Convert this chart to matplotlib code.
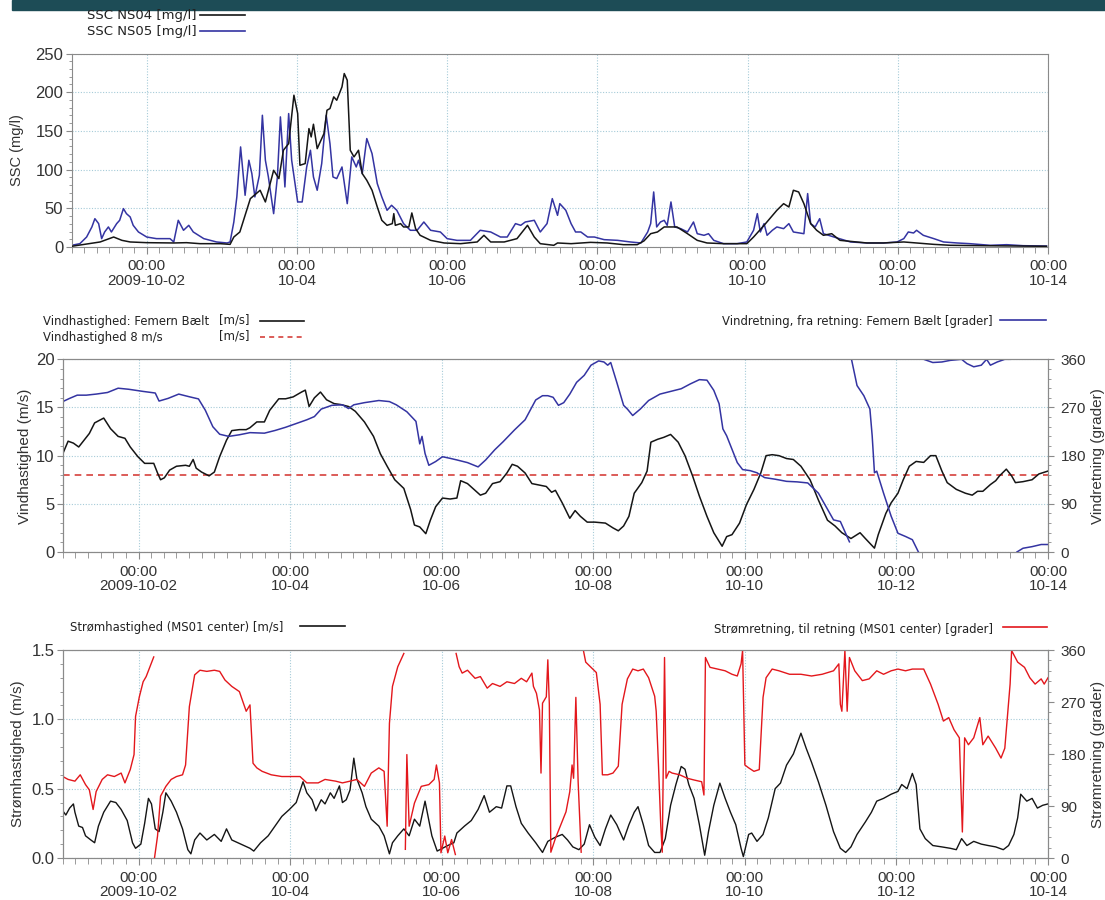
import numpy as np
import pandas as pd
import matplotlib
matplotlib.use('Agg')
import matplotlib.pyplot as plt
from matplotlib.lines import Line2D
from matplotlib.patches import Rectangle
from matplotlib.ticker import MultipleLocator
import matplotlib.dates as mdates

nan = np.nan
START = pd.Timestamp('2009-10-01')

# x-axis ticks
tick_days = ['2009-10-02', '2009-10-04', '2009-10-06', '2009-10-08', '2009-10-10', '2009-10-12', '2009-10-14']
tick_labels = ['00:00\n2009-10-02', '00:00\n10-04', '00:00\n10-06', '00:00\n10-08',
               '00:00\n10-10', '00:00\n10-12', '00:00\n10-14']

# ---- SSC (days since 2009-10-01 00:00, mg/l)
ns04_t = [0.00,0.38,0.56,0.67,0.78,1.00,1.36,1.53,1.71,1.98,2.11,2.16,2.24,2.38,2.51,2.58,2.69,2.76,2.82,2.89,
          2.96,3.01,3.04,3.11,3.16,3.19,3.22,3.27,3.36,3.40,3.44,3.49,3.53,3.60,3.63,3.67,3.71,3.76,3.82,3.87,
          3.93,4.00,4.07,4.13,4.20,4.27,4.29,4.31,4.38,4.42,4.49,4.53,4.58,4.64,4.78,4.96,5.18,5.40,5.49,5.58,
          5.76,5.93,6.07,6.16,6.24,6.42,
          6.47,6.65,6.91,7.13,7.35,7.53,7.62,7.71,7.80,7.89,8.06,8.20,8.33,8.46,8.68,8.99,9.08,9.22,9.39,9.48,
          9.55,9.61,9.68,9.75,9.84,9.92,10.01,10.12,10.23,10.59,10.81,11.08,11.25,11.48,11.70,12.14,12.58,12.98]
ns04_v = [0.9,6.5,12.9,8.6,6.5,5.6,5.2,5.6,4.3,4.3,3.4,12.9,19.4,62.5,73.3,58.2,99.1,88.4,125.0,133.6,
          196.1,172.4,105.6,107.8,153.0,142.2,158.6,127.1,146.5,176.7,178.9,194.0,189.6,206.9,224.1,215.5,125.0,116.4,125.0,94.8,
          86.2,73.3,51.7,34.5,28.0,30.2,43.1,28.0,30.2,25.9,25.9,44.0,23.7,15.1,8.6,5.2,4.3,6.5,15.1,6.5,
          6.5,10.8,28.0,12.9,4.3,2.2,
          5.2,4.3,6.0,5.2,3.0,3.0,7.8,17.2,19.4,25.9,25.9,17.2,8.6,5.2,4.3,4.3,12.9,28.0,47.4,56.0,
          51.7,73.3,71.1,56.0,30.2,21.6,15.1,17.2,8.6,5.2,5.2,6.5,5.2,3.4,2.2,1.7,1.3,0.9]

ns05_t = [0.00,0.11,0.20,0.27,0.31,0.36,0.40,0.44,0.49,0.53,0.60,0.64,0.69,0.73,0.78,0.82,0.89,1.00,1.13,1.31,
          1.36,1.42,1.49,1.56,1.62,1.76,1.93,2.07,2.11,2.16,2.20,2.25,2.31,2.36,2.40,2.44,2.50,2.54,2.58,2.62,
          2.69,2.74,2.78,2.81,2.84,2.89,2.93,3.01,3.07,3.13,3.18,3.22,3.27,3.33,3.39,3.44,3.48,3.53,3.60,3.67,
          3.73,3.79,3.82,3.87,3.93,4.00,4.07,4.13,4.20,4.26,4.33,4.42,4.51,4.60,4.69,4.78,4.91,5.00,5.13,5.31,
          5.44,5.58,5.71,5.80,5.91,5.98,6.04,6.16,6.24,6.33,6.40,
          6.47,6.50,6.58,6.65,6.71,6.78,6.87,6.96,7.09,7.27,7.44,7.58,7.67,7.71,7.75,7.79,7.84,7.89,7.93,7.98,
          8.03,8.11,8.20,8.28,8.33,8.42,8.48,8.55,8.68,8.86,8.99,9.08,9.13,9.17,9.22,9.26,9.33,9.39,9.48,9.55,
          9.61,9.75,9.80,9.84,9.90,9.96,10.01,10.15,10.37,10.59,10.81,10.99,11.08,11.14,11.21,11.25,11.34,11.48,11.61,11.79,
          11.96,12.23,12.45,12.67,12.98]
ns05_v = [2.2,4.3,12.9,25.9,36.6,30.2,10.8,19.4,25.9,19.4,30.2,34.5,49.6,43.1,38.8,28.0,19.4,12.9,10.8,10.8,
          6.5,34.5,21.6,28.0,19.4,10.8,6.5,5.2,6.5,32.3,64.7,129.3,66.8,112.1,94.8,64.7,92.7,170.2,112.1,90.5,
          43.1,90.5,168.1,125.0,77.6,172.4,112.1,58.2,58.2,103.4,125.0,90.5,73.3,107.8,170.2,133.6,90.5,88.4,103.4,56.0,
          116.4,103.4,112.1,94.8,140.1,120.7,81.9,64.7,47.4,53.9,47.4,30.2,21.6,21.6,32.3,21.6,19.4,10.8,8.6,8.6,
          21.6,19.4,12.9,12.9,30.2,28.0,32.3,34.5,19.4,30.2,62.5,
          40.9,56.0,47.4,30.2,19.4,19.4,12.9,12.9,9.5,8.6,6.5,5.2,19.4,30.2,71.1,25.9,32.3,34.5,28.0,58.2,
          25.9,23.7,19.4,32.3,17.2,15.1,17.2,8.6,4.3,4.3,6.5,21.6,43.1,19.4,30.2,15.1,21.6,25.9,23.7,30.2,
          19.4,17.2,69.0,30.2,25.9,36.6,17.2,12.9,6.5,5.2,5.2,6.5,10.8,19.4,18.1,21.6,15.1,10.8,6.5,5.2,
          4.3,2.2,3.0,1.7,1.3]

# ---- wind speed (m/s) and wind direction (grader)
wind_t = [0.00,0.07,0.14,0.21,0.28,0.35,0.42,0.54,0.63,0.73,0.82,0.89,0.99,1.08,1.20,1.25,1.29,1.34,1.41,1.50,
          1.62,1.67,1.72,1.76,1.83,1.93,2.00,2.07,2.16,2.23,2.33,2.42,2.47,2.56,2.66,2.73,2.85,2.94,3.04,3.15,
          3.20,3.25,3.32,3.40,3.48,3.58,3.67,3.77,3.86,3.98,4.10,4.19,4.28,4.38,4.50,4.59,4.64,4.71,4.79,4.85,
          4.92,5.01,5.11,5.20,5.25,5.34,5.44,5.51,5.58,5.67,5.77,5.86,5.93,6.00,6.10,6.19,
          6.38,6.45,6.50,6.59,6.69,6.76,6.83,6.92,7.02,7.16,7.26,7.33,7.40,7.47,7.54,7.64,7.71,7.76,7.85,7.93,
          8.02,8.12,8.21,8.31,8.40,8.50,8.59,8.70,8.76,8.83,8.93,9.02,9.12,9.21,9.28,9.36,9.45,9.55,9.64,9.74,
          9.86,9.97,10.09,10.19,10.28,10.40,10.52,10.59,10.71,10.76,10.86,10.93,11.02,11.09,11.17,11.26,11.36,11.45,11.52,11.60,
          11.67,11.79,11.91,12.00,12.07,12.14,12.24,12.31,12.36,12.45,12.52,12.57,12.67,12.79,12.88,13.00]
wind_v = [10.2,11.5,11.3,10.9,11.6,12.3,13.4,13.9,12.8,12.0,11.8,10.9,9.9,9.2,9.2,8.2,7.5,7.7,8.5,8.9,
          9.0,8.9,9.6,8.7,8.3,7.9,8.3,9.9,11.6,12.6,12.7,12.7,12.9,13.5,13.5,14.7,15.9,15.9,16.1,16.6,
          16.8,15.1,16.0,16.6,15.8,15.4,15.3,15.1,14.6,13.5,12.0,10.2,8.9,7.5,6.6,4.4,2.8,2.6,1.9,3.3,
          4.7,5.6,5.5,5.6,7.4,7.1,6.4,5.9,6.1,7.1,7.3,8.2,9.1,8.9,8.2,7.1,
          6.8,6.2,6.4,5.1,3.5,4.3,3.7,3.1,3.1,3.0,2.5,2.2,2.7,3.7,6.1,7.2,8.4,11.4,11.7,11.9,
          12.2,11.4,10.0,7.9,5.8,3.7,2.0,0.6,1.6,1.8,3.0,4.9,6.5,8.2,10.0,10.1,10.0,9.7,9.6,8.9,
          7.5,5.4,3.3,2.7,2.0,1.4,2.0,1.4,0.4,1.8,4.0,5.1,6.1,7.5,8.9,9.4,9.3,10.0,10.0,8.4,
          7.2,6.5,6.1,5.9,6.3,6.3,7.0,7.4,7.9,8.6,7.9,7.2,7.3,7.5,8.1,8.4]
wind_limit = 8.0

wdir_t = [0.00,0.09,0.19,0.31,0.44,0.59,0.73,0.87,1.06,1.22,1.27,1.39,1.53,1.67,1.79,1.88,1.98,2.07,2.19,2.33,
          2.47,2.66,2.80,2.94,3.08,3.22,3.32,3.41,3.55,3.69,3.77,3.84,3.98,4.17,4.31,4.40,4.54,4.66,4.71,4.74,
          4.78,4.83,4.92,5.01,5.11,5.20,5.34,5.48,5.58,5.70,5.81,5.96,6.10,6.24,6.33,
          6.40,6.47,6.54,6.61,6.69,6.78,6.88,6.97,7.07,7.14,7.19,7.23,7.31,7.40,7.45,7.52,7.62,7.73,7.88,8.02,
          8.16,8.28,8.40,8.50,8.59,8.66,8.71,8.76,8.83,8.90,8.97,9.07,9.16,9.26,9.40,9.55,9.69,9.83,9.97,10.07,
          10.17,10.26,10.38,10.39,10.41,10.48,10.57,10.65,10.68,10.71,10.74,10.83,10.93,11.02,11.12,11.21,11.29,11.32,
          11.36,11.48,11.60,11.71,11.86,11.93,12.02,12.12,12.19,12.24,12.33,12.43,12.50,12.54,
          12.59,12.67,12.79,12.91,13.00]
wdir_v = [281,287,293,293,295,298,306,304,300,297,282,287,295,290,286,265,234,220,216,219,
          223,222,227,233,240,247,253,267,274,275,268,275,279,283,281,275,262,244,202,216,
          184,162,169,178,175,172,167,159,172,191,206,228,247,284,292,
          292,289,274,279,295,317,330,349,357,355,349,354,317,274,267,255,267,283,295,300,
          305,314,322,321,302,277,230,217,192,167,154,152,148,139,136,132,131,129,110,85,
          60,57,19,nan,358,311,292,267,217,148,151,110,67,35,29,23,0,nan,
          360,354,355,358,360,352,346,349,360,349,355,360,360,nan,
          0,7,10,14,14]

# ---- current speed (m/s) and current direction (grader)
cur_t = [0.00,0.04,0.09,0.14,0.16,0.21,0.26,0.30,0.37,0.42,0.47,0.54,0.63,0.70,0.77,0.85,0.92,0.96,1.03,1.08,
         1.13,1.17,1.22,1.27,1.32,1.36,1.43,1.50,1.58,1.65,1.69,1.74,1.81,1.90,2.00,2.09,2.16,2.23,2.35,2.47,
         2.52,2.61,2.71,2.80,2.89,2.99,3.08,3.17,3.22,3.29,3.34,3.41,3.46,3.53,3.58,3.65,3.69,3.74,3.79,3.84,
         3.88,3.95,4.00,4.07,4.17,4.24,4.31,4.35,4.42,4.50,4.57,4.64,4.71,4.78,4.83,4.87,4.94,5.01,5.08,5.16,
         5.20,5.30,5.39,5.48,5.56,5.63,5.72,5.79,5.86,5.91,5.98,6.05,6.14,6.24,6.33,
         6.40,6.50,6.59,6.66,6.73,6.81,6.88,6.95,7.02,7.09,7.16,7.23,7.31,7.40,7.47,7.54,7.59,7.66,7.73,7.81,
         7.88,7.95,8.02,8.09,8.16,8.21,8.26,8.33,8.40,8.47,8.52,8.59,8.67,8.74,8.81,8.88,8.95,8.98,9.05,9.09,
         9.16,9.24,9.31,9.40,9.47,9.55,9.64,9.74,9.81,9.88,9.97,10.07,10.17,10.26,10.33,10.40,10.48,10.59,10.67,10.74,
         10.83,10.93,11.02,11.07,11.14,11.21,11.26,11.31,11.38,11.48,11.60,11.71,11.79,11.86,11.93,12.02,12.12,12.21,12.31,12.41,
         12.48,12.55,12.60,12.64,12.72,12.79,12.86,12.93,13.00]
cur_v = [0.34,0.31,0.36,0.39,0.33,0.23,0.22,0.16,0.13,0.11,0.23,0.33,0.41,0.40,0.35,0.27,0.11,0.07,0.10,0.25,
         0.43,0.39,0.21,0.19,0.33,0.47,0.41,0.33,0.21,0.06,0.03,0.13,0.18,0.13,0.17,0.12,0.21,0.13,0.10,0.07,
         0.05,0.11,0.16,0.23,0.30,0.35,0.40,0.55,0.47,0.42,0.34,0.42,0.39,0.47,0.43,0.52,0.40,0.42,0.49,0.72,
         0.57,0.47,0.37,0.28,0.23,0.16,0.03,0.11,0.16,0.21,0.16,0.28,0.23,0.41,0.27,0.16,0.05,0.07,0.09,0.11,
         0.18,0.23,0.27,0.35,0.45,0.33,0.37,0.36,0.52,0.52,0.37,0.25,0.18,0.11,0.04,
         0.12,0.15,0.17,0.13,0.08,0.06,0.10,0.24,0.15,0.09,0.21,0.31,0.24,0.13,0.24,0.33,0.37,0.24,0.09,0.04,
         0.04,0.14,0.38,0.53,0.66,0.64,0.53,0.43,0.24,0.02,0.19,0.38,0.54,0.43,0.33,0.24,0.07,0.01,0.17,0.18,
         0.12,0.17,0.29,0.50,0.54,0.67,0.75,0.90,0.79,0.69,0.55,0.38,0.19,0.07,0.04,0.08,0.17,0.26,0.33,0.41,
         0.43,0.46,0.48,0.53,0.50,0.61,0.53,0.21,0.14,0.09,0.08,0.07,0.06,0.14,0.09,0.12,0.10,0.09,0.08,0.06,
         0.09,0.17,0.29,0.46,0.41,0.43,0.36,0.38,0.39]

cdir_t = [0.00,0.07,0.16,0.23,0.30,0.35,0.40,0.44,0.52,0.59,0.68,0.77,0.82,0.89,0.94,0.96,1.01,1.06,1.10,1.15,
          1.20,1.203,1.21,1.25,1.29,1.36,1.43,1.50,1.58,1.62,1.67,1.74,1.81,1.90,2.00,2.07,2.14,2.23,2.33,2.42,
          2.47,2.51,2.56,2.63,2.75,2.89,3.04,3.13,3.22,3.37,3.46,3.60,3.69,3.79,3.88,3.98,4.07,4.17,4.24,4.28,
          4.31,4.35,4.42,4.50,4.51,4.52,4.54,4.57,4.64,4.73,4.83,4.90,4.93,4.97,4.99,5.04,5.08,5.13,5.18,5.185,
          5.19,5.23,5.27,5.34,5.44,5.51,5.60,5.67,5.77,5.86,5.96,6.05,6.12,6.19,6.21,6.25,6.29,6.31,6.33,6.38,
          6.40,6.42,6.44,6.50,6.57,6.64,6.69,6.72,6.74,6.77,6.80,6.84,6.85,6.87,6.90,6.97,7.04,7.09,7.12,7.19,
          7.26,7.33,7.38,7.45,7.52,7.59,7.66,7.73,7.81,7.83,7.86,7.89,7.91,7.94,7.96,8.00,8.04,8.14,8.24,8.33,
          8.43,8.46,8.48,8.54,8.64,8.74,8.83,8.90,8.95,8.97,9.00,9.05,9.12,9.19,9.24,9.28,9.36,9.45,9.59,9.74,
          9.88,10.02,10.17,10.24,10.26,10.28,10.32,10.35,10.38,10.45,10.55,10.64,10.74,10.83,10.93,11.02,11.12,11.21,11.36,11.45,
          11.55,11.62,11.69,11.76,11.83,11.87,11.90,11.95,12.02,12.10,12.14,12.21,12.31,12.38,12.43,12.50,12.52,12.60,12.69,12.76,
          12.83,12.91,12.95,13.00]
cdir_v = [141,136,133,144,127,118,84,115,136,144,141,147,130,153,179,245,279,305,314,331,
          348,nan,0,38,107,124,136,141,144,161,262,317,325,323,325,323,308,297,288,254,
          265,164,156,150,144,141,141,141,130,130,136,133,130,133,136,124,147,156,150,55,
          233,297,331,354,nan,15,179,55,95,124,127,136,161,130,9,38,9,32,6,nan,
          354,331,320,325,311,314,294,302,297,305,302,311,305,320,297,285,256,147,268,279,
          343,266,10,34,57,80,115,161,138,278,132,10,nan,359,339,330,321,266,144,144,
          147,159,266,310,327,324,327,312,280,254,161,57,10,347,138,150,147,144,138,135,
          132,109,347,330,327,324,318,315,336,359,161,156,150,153,278,312,327,324,318,318,
          315,318,324,336,266,254,359,254,347,324,307,310,324,318,324,327,324,327,327,301,
          266,237,243,222,208,45,208,196,208,243,196,211,190,173,190,301,359,339,330,312,
          301,310,301,312]


def to_time(days):
    return START + pd.to_timedelta(np.asarray(days, dtype=float), unit='D')


W, H = 1105, 900
def fx(x):
    return x / W
def fy(y):
    return 1 - y / H

BLACK = '#151515'
BLUE = '#3434a2'
RED = '#e3171c'
GRID = '#a6cbd8'
SPINE = '#8a8a8a'
TXT = '#333333'
TICKFONT = 'Liberation Sans'
LEGFONT = 'DejaVu Sans'

fig = plt.figure(figsize=(W / 100, H / 100), dpi=100)
fig.patches.append(Rectangle((fx(12), fy(10)), 1, 10 / H, transform=fig.transFigure,
                             color='#1d4c56', zorder=0))

ax1 = fig.add_axes([fx(71.6), fy(247), (1048 - 71.6) / W, (247 - 53.5) / H])
ax2 = fig.add_axes([fx(62.8), fy(552), (1048 - 62.8) / W, (552 - 359.3) / H])
ax3 = fig.add_axes([fx(62.8), fy(858), (1048 - 62.8) / W, (858 - 650) / H])
ax2r = ax2.twinx()
ax3r = ax3.twinx()

x0, x1 = START, START + pd.Timedelta(days=13)
ticks = pd.to_datetime(tick_days)


def style_x(ax):
    ax.set_xlim(x0, x1)
    ax.set_xticks(ticks, tick_labels, linespacing=1.05, fontsize=11, family=TICKFONT, color=TXT)
    ax.xaxis.set_minor_locator(mdates.HourLocator(byhour=range(0, 24, 4)))
    ax.grid(True, which='major', axis='both', color=GRID, linestyle=(0, (1, 1.5)), linewidth=0.8)
    ax.tick_params(axis='x', which='major', length=5, pad=4, color=SPINE)
    ax.tick_params(axis='x', which='minor', length=4, color=SPINE)
    for s in ax.spines.values():
        s.set_color(SPINE)


def style_y(ax, lim, major, minor, size=12, pad=2):
    ax.set_ylim(*lim)
    ax.set_yticks(major)
    ax.yaxis.set_minor_locator(MultipleLocator(minor))
    ax.tick_params(axis='y', which='major', length=4, pad=pad, color=SPINE, labelsize=size, labelcolor=TXT)
    ax.tick_params(axis='y', which='minor', length=2.5, color=SPINE)
    for lab in ax.get_yticklabels():
        lab.set_family(TICKFONT)


# ---- panel 1: SSC
ax1.plot(to_time(ns04_t), ns04_v, color=BLACK, lw=1.1, zorder=3)
ax1.plot(to_time(ns05_t), ns05_v, color=BLUE, lw=1.1, zorder=2)
style_x(ax1)
style_y(ax1, (0, 250), [0, 50, 100, 150, 200, 250], 10)
ax1.set_yticklabels(['0', '50', '100', '150', '200', '250'], family=TICKFONT)
fig.text(fx(17), fy(150), 'SSC (mg/l)', rotation=90, ha='center', va='center',
         fontsize=10.5, family=TICKFONT, color=TXT)

# ---- panel 2: wind
ax2.plot(to_time(wind_t), wind_v, color=BLACK, lw=1.1, zorder=3)
ax2.axhline(wind_limit, color='#d5413c', lw=1.2, dashes=(4, 3), zorder=2)
ax2r.plot(to_time(wdir_t), wdir_v, color=BLUE, lw=1.1)
style_x(ax2)
style_y(ax2, (0, 20), [0, 5, 10, 15, 20], 1)
style_y(ax2r, (0, 360), [0, 90, 180, 270, 360], 18, size=11, pad=5)
ax2r.set_xlim(x0, x1)
for s in ax2r.spines.values():
    s.set_color(SPINE)
fig.text(fx(25), fy(456), 'Vindhastighed (m/s)', rotation=90, ha='center', va='center',
         fontsize=11, family=TICKFONT, color=TXT)
fig.text(fx(1098), fy(456), 'Vindretning (grader)', rotation=90, ha='center', va='center',
         fontsize=11, family=TICKFONT, color=TXT)

# ---- panel 3: current
ax3.plot(to_time(cur_t), cur_v, color=BLACK, lw=1.0, zorder=3)
ax3r.plot(to_time(cdir_t), cdir_v, color=RED, lw=1.0)
style_x(ax3)
style_y(ax3, (0, 1.5), [0.0, 0.5, 1.0, 1.5], 0.1)
ax3.set_yticklabels(['0.0', '0.5', '1.0', '1.5'], family=TICKFONT)
style_y(ax3r, (0, 360), [0, 90, 180, 270, 360], 18, size=11, pad=5)
ax3r.set_xlim(x0, x1)
for s in ax3r.spines.values():
    s.set_color(SPINE)
fig.text(fx(18), fy(754), 'Strømhastighed (m/s)', rotation=90, ha='center', va='center',
         fontsize=11, family=TICKFONT, color=TXT)
fig.text(fx(1098), fy(754), 'Strømretning (grader)', rotation=90, ha='center', va='center',
         fontsize=11, family=TICKFONT, color=TXT)


# ---- legends (figure coordinates)
def leg_text(x, y, s, size=8.4, ha='left'):
    fig.text(fx(x), fy(y), s, ha=ha, va='center', fontsize=size, family=LEGFONT, color='#222222')


def leg_line(xa, xb, y, **kw):
    fig.add_artist(Line2D([fx(xa), fx(xb)], [fy(y), fy(y)], transform=fig.transFigure, **kw))


leg_text(87, 15, 'SSC NS04 [mg/l]', size=9.5)
leg_text(87, 31, 'SSC NS05 [mg/l]', size=9.5)
leg_line(200, 245, 15, color=BLACK, lw=1.2)
leg_line(200, 245, 31, color=BLUE, lw=1.2)

leg_text(43, 322, 'Vindhastighed: Femern Bælt')
leg_text(219, 320, '[m/s]')
leg_text(43, 337, 'Vindhastighed 8 m/s')
leg_text(219, 336, '[m/s]')
leg_line(260, 304, 321, color=BLACK, lw=1.2)
leg_line(260, 302, 337, color='#d5413c', lw=1.2, dashes=(3, 2.5))
leg_text(993, 322, 'Vindretning, fra retning: Femern Bælt [grader]', ha='right')
leg_line(1000, 1046, 320, color=BLUE, lw=1.2)

leg_text(70, 628, 'Strømhastighed (MS01 center) [m/s]')
leg_line(300, 345, 626, color=BLACK, lw=1.2)
leg_text(993, 629, 'Strømretning, til retning (MS01 center) [grader]', ha='right')
leg_line(1003, 1047, 627, color=RED, lw=1.2)

fig.savefig('out.png', dpi=100)
